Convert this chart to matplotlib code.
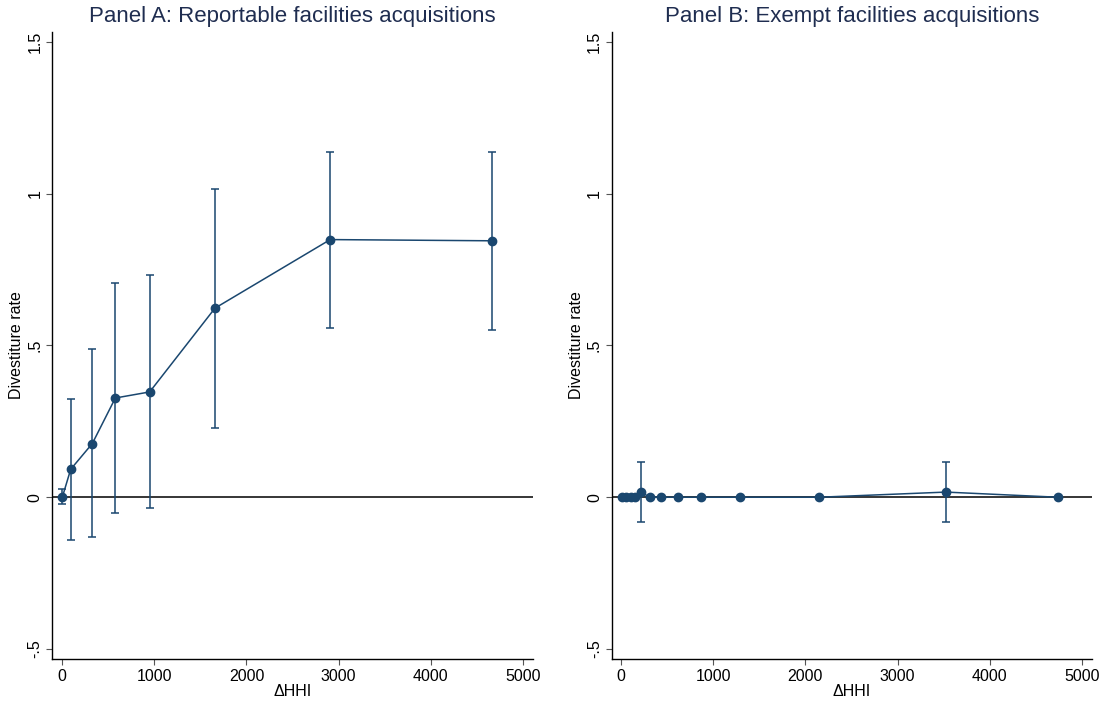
import matplotlib
matplotlib.use("Agg")
import matplotlib.pyplot as plt
import numpy as np

plt.rcParams['font.family'] = ['Liberation Sans', 'DejaVu Sans']

# Panel A: reportable facilities acquisitions
a_hhi = [0, 91, 326, 576, 949, 1658, 2910, 4670]
a_rate = [0.0, 0.092, 0.177, 0.327, 0.347, 0.623, 0.849, 0.845]
a_low = [-0.022, -0.142, -0.131, -0.053, -0.037, 0.229, 0.557, 0.552]
a_high = [0.027, 0.324, 0.489, 0.707, 0.733, 1.015, 1.138, 1.138]

# Panel B: exempt facilities acquisitions
b_hhi = [4, 51, 102, 149, 211, 312, 431, 616, 862, 1286, 2147, 3526, 4742]
b_rate = [0, 0, 0, 0, 0.017, 0, 0, 0, 0, 0, 0, 0.017, 0]
b_low = [0, 0, 0, 0, -0.082, 0, 0, 0, 0, 0, 0, -0.082, 0]
b_high = [0, 0, 0, 0, 0.116, 0, 0, 0, 0, 0, 0, 0.116, 0]

titles = ["Panel A: Reportable facilities acquisitions",
          "Panel B: Exempt facilities acquisitions"]
yticks = [-0.5, 0, 0.5, 1, 1.5]
ytick_labels = ["-.5", "0", ".5", "1", "1.5"]
xticks = [0, 1000, 2000, 3000, 4000, 5000]

navy = '#1a476f'
title_color = '#1f2d50'

fig = plt.figure(figsize=(11.04, 7.04), dpi=100)
axA = fig.add_axes([52/1104, 45/704, 480.7/1104, 627/704])
axB = fig.add_axes([611.7/1104, 45/704, 480/1104, 627/704])

panels = [(axA, a_hhi, a_rate, a_low, a_high, -112),
          (axB, b_hhi, b_rate, b_low, b_high, -104)]

for i, (ax, x, y, lo, hi, xleft) in enumerate(panels):
    x = np.array(x)
    y = np.array(y)
    lo = np.array(lo)
    hi = np.array(hi)
    ax.axhline(0, color='black', lw=1.1, zorder=1)
    # only draw caps where there is an interval
    has_err = hi - lo > 0
    ax.errorbar(x[has_err], y[has_err], yerr=[y[has_err] - lo[has_err], hi[has_err] - y[has_err]],
                fmt='none', ecolor=navy, elinewidth=1.1, capsize=3.2, capthick=1.1, zorder=2)
    ax.plot(x, y, color=navy, lw=1.1, marker='o', ms=6, zorder=3)
    ax.set_xlim(xleft, 5109)
    ax.set_ylim(-0.533, 1.533)
    ax.set_xticks(xticks)
    ax.set_yticks(yticks)
    ax.set_yticklabels(ytick_labels, rotation=90, va='center')
    ax.tick_params(labelsize=11.5, length=4, width=0.8, color='#555555', pad=3)
    ax.spines['top'].set_visible(False)
    ax.spines['right'].set_visible(False)
    ax.spines['left'].set_linewidth(1.0)
    ax.spines['bottom'].set_linewidth(1.0)
    ax.set_xlabel("ΔHHI", fontsize=11.5, labelpad=0)
    ax.set_ylabel("Divestiture rate", fontsize=11.5, labelpad=2)
    ax.set_title(titles[i], fontsize=16, color=title_color, y=1.016, pad=0)

fig.savefig("out.png", dpi=100)
